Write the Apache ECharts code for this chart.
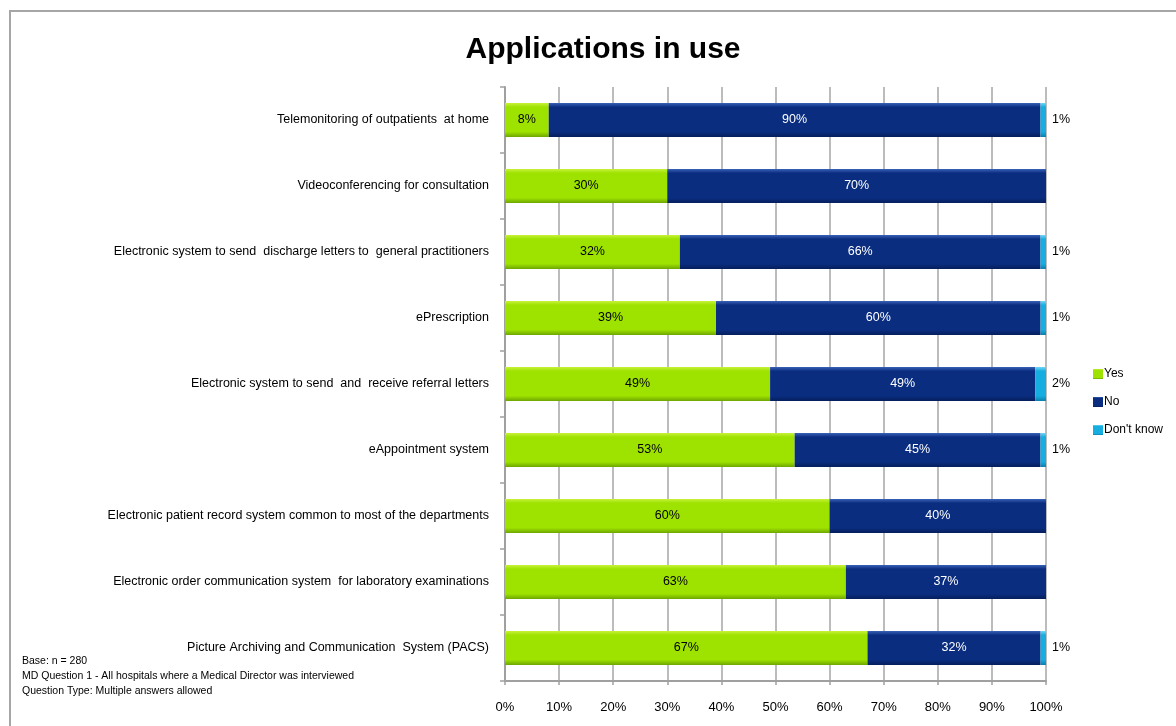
<!DOCTYPE html>
<html>
<head>
<meta charset="utf-8">
<script src="https://cdn.jsdelivr.net/npm/echarts@6/dist/echarts.min.js"></script>
<style>
  html, body { margin: 0; padding: 0; background: #fff; }
  #main { width: 1176px; height: 726px; }
</style>
</head>
<body>
<div id="main"></div>
<script>
// data, top row first
var categories = [
    'Telemonitoring of outpatients  at home',
    'Videoconferencing for consultation',
    'Electronic system to send  discharge letters to  general practitioners',
    'ePrescription',
    'Electronic system to send  and  receive referral letters',
    'eAppointment system',
    'Electronic patient record system common to most of the departments',
    'Electronic order communication system  for laboratory examinations',
    'Picture Archiving and Communication  System (PACS)'
];
var yesVals = [8, 30, 32, 39, 49, 53, 60, 63, 67];
var noVals = [90, 70, 66, 60, 49, 45, 40, 37, 32];
var dkVals = [1, 0, 1, 1, 2, 1, 0, 0, 1];
var xTicks = ['0%', '10%', '20%', '30%', '40%', '50%', '60%', '70%', '80%', '90%', '100%'];

var myChart = echarts.init(document.getElementById('main'));

// 100% stacked: each row scaled to its own total
function share(arr) {
    return arr.map(function (v, i) {
        var tot = yesVals[i] + noVals[i] + dkVals[i];
        return { value: v / tot * 100, raw: v };
    });
}

function bevel(top, mid, bottom) {
    return new echarts.graphic.LinearGradient(0, 0, 0, 1, [
        { offset: 0, color: top },
        { offset: 0.12, color: mid },
        { offset: 0.85, color: mid },
        { offset: 1, color: bottom }
    ]);
}

var font = '"Liberation Sans", Arial, sans-serif';

var option = {
    animation: false,
    textStyle: { fontFamily: font },
    title: {
        text: 'Applications in use',
        left: 598,
        top: 30,
        textAlign: 'center',
        textStyle: { fontSize: 30, fontWeight: 'bold', color: '#000', fontFamily: font }
    },
    legend: {
        orient: 'vertical',
        left: 1088,
        top: 362,
        itemWidth: 10,
        itemHeight: 10,
        itemGap: 14,
        icon: 'rect',
        textStyle: { fontSize: 12, color: '#000', padding: [0, 0, 0, -4], lineHeight: 14 },
        data: ['Yes', 'No', "Don't know"]
    },
    grid: {
        left: 505,
        right: 130,
        top: 87,
        bottom: 45
    },
    xAxis: {
        type: 'value',
        min: 0,
        max: 100,
        interval: 10,
        axisLine: { show: true, lineStyle: { color: '#a0a0a0', width: 2 } },
        axisTick: { show: true, length: 4, lineStyle: { color: '#a0a0a0', width: 1.5 } },
        axisLabel: {
            color: '#000',
            fontSize: 13,
            margin: 20,
            formatter: function (v) { return xTicks[Math.round(v / 10)]; }
        },
        splitLine: { show: true, lineStyle: { color: '#a6a6a6', width: 1.5 } }
    },
    yAxis: {
        type: 'category',
        inverse: true,
        data: categories,
        axisLine: { show: true, lineStyle: { color: '#a0a0a0', width: 2 } },
        axisTick: { show: true, length: 5, lineStyle: { color: '#a0a0a0', width: 1.5 } },
        axisLabel: { color: '#000', fontSize: 12.5, margin: 16 }
    },
    series: [
        {
            name: 'Yes',
            type: 'bar',
            stack: 'all',
            barWidth: 34,
            data: share(yesVals),
            itemStyle: { color: bevel('#c8f23c', '#9ee200', '#6ea600') },
            label: {
                show: true,
                position: 'inside',
                color: '#000',
                fontSize: 12.5,
                formatter: function (p) { return p.data.raw + '%'; }
            }
        },
        {
            name: 'No',
            type: 'bar',
            stack: 'all',
            data: share(noVals),
            itemStyle: { color: bevel('#3a62b8', '#0a2d80', '#061f5c') },
            label: {
                show: true,
                position: 'inside',
                color: '#fff',
                fontSize: 12.5,
                formatter: function (p) { return p.data.raw + '%'; }
            }
        },
        {
            name: "Don't know",
            type: 'bar',
            stack: 'all',
            data: share(dkVals),
            itemStyle: { color: bevel('#6fd8f6', '#16aee0', '#0b7fae') },
            label: {
                show: true,
                position: 'right',
                distance: 6,
                color: '#000',
                fontSize: 12.5,
                formatter: function (p) { return p.data.raw > 0 ? p.data.raw + '%' : ''; }
            }
        }
    ],
    graphic: [
        {
            type: 'polyline',
            shape: { points: [[10, 726], [10, 11], [1176, 11]] },
            style: { stroke: '#a6a6a6', lineWidth: 2, fill: null }
        },
        {
            type: 'text',
            left: 22,
            top: 654,
            style: {
                text: 'Base: n = 280\nMD Question 1 - All hospitals where a Medical Director was interviewed\nQuestion Type: Multiple answers allowed',
                font: '10.5px ' + font,
                fill: '#000',
                lineHeight: 15
            }
        }
    ]
};

myChart.setOption(option, true);
</script>
</body>
</html>
